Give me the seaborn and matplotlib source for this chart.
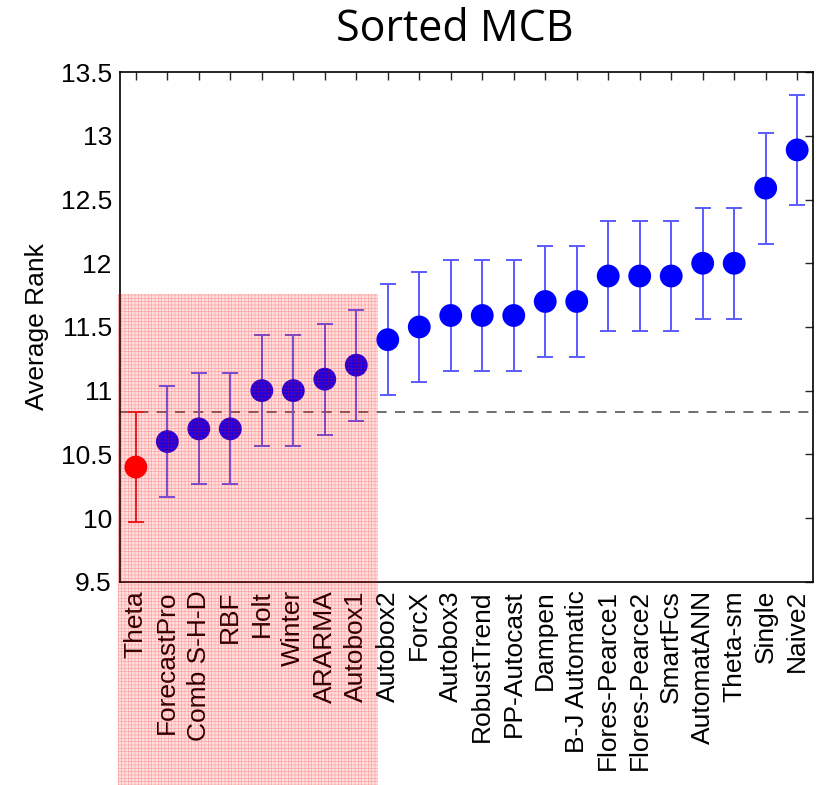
import pandas as pd
import numpy as np
import matplotlib
matplotlib.use('Agg')
import matplotlib.pyplot as plt
from matplotlib.patches import Rectangle
import seaborn as sns

# dados
methods = ['Theta', 'ForecastPro', 'Comb S-H-D', 'RBF', 'Holt', 'Winter', 'ARARMA',
           'Autobox1', 'Autobox2', 'ForcX', 'Autobox3', 'RobustTrend', 'PP-Autocast',
           'Dampen', 'B-J Automatic', 'Flores-Pearce1', 'Flores-Pearce2', 'SmartFcs',
           'AutomatANN', 'Theta-sm', 'Single', 'Naive2']
avg_rank = [10.40, 10.60, 10.70, 10.70, 11.00, 11.00, 11.09, 11.20, 11.40, 11.50, 11.59,
            11.59, 11.59, 11.70, 11.70, 11.90, 11.90, 11.90, 12.00, 12.00, 12.59, 12.89]
half_width = 0.435
n_best = 8          # metodos dentro da zona sombreada
shade_top = 11.76

sns.set_style('white')
plt.rcParams['font.family'] = ['Liberation Sans', 'DejaVu Sans']
plt.rcParams['hatch.linewidth'] = 0.4

df = pd.DataFrame({'Method': methods, 'Rank': avg_rank})
df['grupo'] = ['best'] + ['other'] * (len(df) - 1)

fig = plt.figure(figsize=(8.17, 7.85), dpi=100)
ax = fig.add_axes([0.147, 0.259, 0.848, 0.649])

x = np.arange(len(df))
cores_err = ['#e8202b'] + ['#5b5bff'] * (len(df) - 1)
for i in range(len(df)):
    ax.errorbar(x[i], df['Rank'][i], yerr=half_width, fmt='none', ecolor=cores_err[i],
                elinewidth=1.4, capsize=6, capthick=1.4, zorder=2)

sns.scatterplot(data=df, x='Method', y='Rank', hue='grupo',
                palette={'best': '#ff0000', 'other': '#0000ff'},
                s=270, edgecolor='none', legend=False, ax=ax, zorder=3)

# limite critico
ax.axhline(avg_rank[0] + half_width, color='#555555', linestyle=(0, (6, 5)), linewidth=1.2, zorder=1)

# zona sombreada (passa por baixo do eixo ate as legendas)
rect = Rectangle((-0.58, 7.9), n_best - 0.32 + 0.58, shade_top - 7.9, facecolor=(1, 0, 0, 0.13),
                 edgecolor=(1, 0, 0, 0.3), hatch='+++++', linewidth=0, clip_on=False, zorder=5)
ax.add_patch(rect)

ax.set_xlim(-0.5, len(df) - 0.5)
ax.set_ylim(9.5, 13.5)
ax.set_yticks([9.5, 10, 10.5, 11, 11.5, 12, 12.5, 13, 13.5])
ax.set_yticklabels(['9.5', '10', '10.5', '11', '11.5', '12', '12.5', '13', '13.5'])
ax.set_xticks(x)
ax.set_xticklabels(methods, rotation=90)
ax.tick_params(axis='both', direction='in', length=6, width=1, labelsize=19,
               top=True, right=True, pad=6, labelcolor='black')
for s in ax.spines.values():
    s.set_color('black')
    s.set_linewidth(1.2)
ax.set_xlabel('')
ax.set_ylabel('Average Rank', fontsize=19, labelpad=8, color='black')
fig.suptitle('Sorted MCB', fontsize=31, family='Open Sans', x=0.557, y=0.99, color='black')

plt.savefig('out.png', dpi=100)
